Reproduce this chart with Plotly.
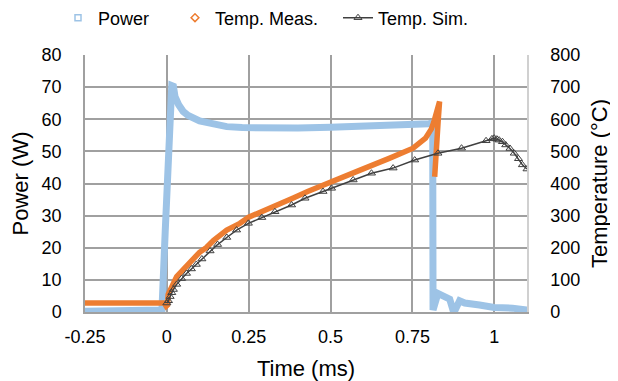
import plotly.graph_objects as go

# ---- data ----
power_t = [-0.255, -0.2, -0.15, -0.1, -0.05, -0.015, -0.005, 0.005, 0.01, 0.015, 0.02, 0.025,
           0.036, 0.05, 0.065, 0.081, 0.1, 0.132, 0.16, 0.183, 0.23, 0.284, 0.35, 0.4, 0.5,
           0.6, 0.7, 0.75, 0.8, 0.812, 0.813, 0.813, 0.828, 0.833, 0.85, 0.864, 0.874, 0.88,
           0.894, 0.91, 0.955, 1.0, 1.056, 1.107]
power_w = [0.2, 0.3, 0.3, 0.4, 0.5, 0.6, 25, 52, 68, 70.5, 70.3, 67,
           64.5, 62.4, 61.2, 60.3, 59.5, 58.8, 58.2, 57.7, 57.4, 57.2, 57.3, 57.3, 57.5,
           57.7, 58.0, 58.2, 58.6, 58.8, 30, 0.6, 5.8, 5.5, 4.5, 4.0, 0.6, 0.5,
           3.5, 2.8, 2.2, 1.4, 1.2, 0.5]

meas_t = [-0.255, -0.15, -0.05, -0.008, -0.002, 0.002, 0.004, 0.01, 0.015, 0.025, 0.03,
          0.045, 0.061, 0.081, 0.1, 0.12, 0.142, 0.183, 0.223, 0.25, 0.305, 0.345, 0.386,
          0.43, 0.477, 0.5, 0.579, 0.681, 0.752, 0.79, 0.808, 0.815, 0.823, 0.833, 0.829,
          0.823, 0.818]
meas_c = [28, 28, 28, 28, 18, 22, 55, 70, 85, 100, 110,
          127, 143, 168, 186, 200, 222, 255, 276, 295, 318, 339, 355,
          375, 396, 404, 437, 479, 510, 541, 570, 590, 624, 655, 600,
          500, 421]

sim_t = [0.0, 0.005, 0.01, 0.015, 0.02, 0.03, 0.045, 0.06, 0.075, 0.09, 0.107, 0.132,
         0.155, 0.183, 0.213, 0.249, 0.29, 0.33, 0.381, 0.422, 0.477, 0.503, 0.569, 0.625,
         0.691, 0.757, 0.828, 0.90, 0.975, 0.993, 1.0, 1.008, 1.015, 1.025, 1.035, 1.048,
         1.061, 1.074, 1.086, 1.1]
sim_c = [28, 35, 48, 60, 70, 86, 104, 120, 134, 148, 165, 190,
         210, 232, 255, 276, 294, 312, 333, 354, 375, 385, 411, 432,
         448, 473, 494, 510, 533, 539, 541, 538, 535, 530, 520, 509,
         494, 477, 458, 445]

x_tickvals = [-0.25, 0, 0.25, 0.5, 0.75, 1]
x_ticktext = ["-0.25", "0", "0.25", "0.5", "0.75", "1"]
yl_ticks = [0, 10, 20, 30, 40, 50, 60, 70, 80]
yr_ticks = [0, 100, 200, 300, 400, 500, 600, 700, 800]

BLUE = "#9DC3E6"
ORANGE = "#ED7D31"
DARK = "#404040"
GRID = "#a0a0a0"
FONT = "Liberation Sans, Arial, sans-serif"
FS = 18

fig = go.Figure()

fig.add_trace(go.Scatter(x=power_t, y=power_w, mode="lines",
                         line=dict(color=BLUE, width=7), showlegend=False, yaxis="y"))
fig.add_trace(go.Scatter(x=meas_t, y=meas_c, mode="lines",
                         line=dict(color=ORANGE, width=5.5), showlegend=False, yaxis="y2"))
fig.add_trace(go.Scatter(x=sim_t, y=sim_c, mode="lines+markers",
                         line=dict(color=DARK, width=1.5),
                         marker=dict(symbol="triangle-up-open", size=7, color=DARK,
                                     line=dict(width=1, color=DARK)),
                         showlegend=False, yaxis="y2"))

# legend-only entries
fig.add_trace(go.Scatter(x=[None], y=[None], mode="markers", name="Power",
                         marker=dict(symbol="square-open", size=6, color=BLUE,
                                     line=dict(width=1.5, color=BLUE)),
                         legend="legend"))
fig.add_trace(go.Scatter(x=[None], y=[None], mode="markers", name="Temp. Meas.",
                         marker=dict(symbol="diamond-open", size=6, color=ORANGE,
                                     line=dict(width=1.5, color=ORANGE)),
                         legend="legend2", yaxis="y2"))
fig.add_trace(go.Scatter(x=[None], y=[None], mode="lines+markers", name="Temp. Sim.",
                         line=dict(color=DARK, width=1.5),
                         marker=dict(symbol="triangle-up-open", size=7, color=DARK,
                                     line=dict(width=1, color=DARK)),
                         legend="legend3", yaxis="y2"))

# page has an 8px body margin: figure is sized so that it fills the 618x381 window
W, H = 610, 373
L, R, T, B = 77, 91, 47, 69

def cx(px):
    return px / W

cy = 1 - 10 / H

leg_common = dict(orientation="h", yanchor="middle", xanchor="left",
                  xref="container", yref="container",
                  bgcolor="rgba(0,0,0,0)", font=dict(family=FONT, size=FS, color="#000"))

fig.update_layout(
    width=W, height=H,
    margin=dict(l=L, r=R, t=T, b=B, autoexpand=False),
    paper_bgcolor="white", plot_bgcolor="white",
    font=dict(family=FONT, size=FS, color="#000"),
    legend=dict(x=cx(50), y=cy, **leg_common),
    legend2=dict(x=cx(167), y=cy, **leg_common),
    legend3=dict(x=cx(330), y=cy, **leg_common),
    xaxis=dict(range=[-0.25, 1.1], tickvals=x_tickvals, ticktext=x_ticktext,
               showgrid=True, gridcolor=GRID, gridwidth=1.5, zeroline=False,
               showline=True, linecolor=GRID, linewidth=1.5,
               ticks="", ticklabelstandoff=8, automargin=False,
               title=dict(text="Time (ms)", standoff=17),
               tickfont=dict(size=FS)),
    yaxis=dict(range=[0, 80], tickvals=yl_ticks, showgrid=True, gridcolor=GRID,
               gridwidth=1.5, zeroline=False, showline=True, linecolor=GRID, linewidth=1.5,
               ticks="", ticklabelstandoff=18, automargin=False,
               title=dict(text="Power (W)", standoff=11), tickfont=dict(size=FS)),
    yaxis2=dict(range=[0, 800], tickvals=yr_ticks, overlaying="y", side="right",
                showgrid=False, zeroline=False, showline=True, linecolor="#d0d0d0",
                linewidth=1.5, ticks="", ticklabelstandoff=18, automargin=False,
                title=dict(text="Temperature (°C)", standoff=12), tickfont=dict(size=FS)),
)

fig.write_html("out.html")
